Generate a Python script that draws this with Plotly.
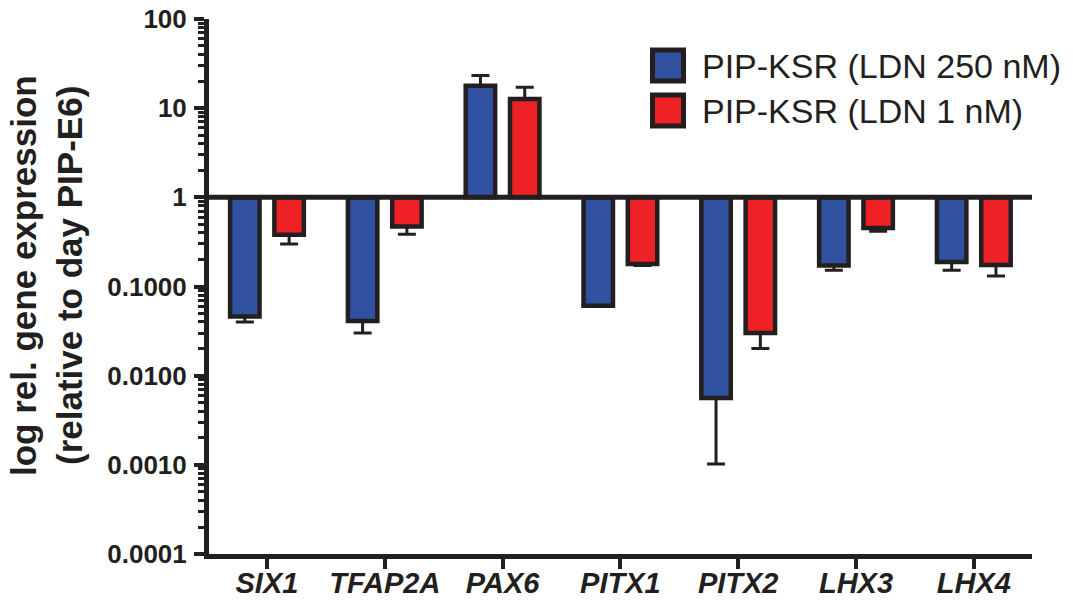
import plotly.graph_objects as go

# ---------------- data ----------------
categories = ["SIX1", "TFAP2A", "PAX6", "PITX1", "PITX2", "LHX3", "LHX4"]
series_names = ["PIP-KSR (LDN 250 nM)", "PIP-KSR (LDN 1 nM)"]
ldn250 = [0.046, 0.041, 17.8, 0.061, 0.0056, 0.172, 0.188]
ldn250_err_end = [0.040, 0.030, 23.2, 0.061, 0.00102, 0.152, 0.152]
ldn1 = [0.38, 0.47, 12.7, 0.179, 0.030, 0.452, 0.174]
ldn1_err_end = [0.30, 0.385, 17.2, 0.172, 0.0202, 0.416, 0.131]
y_tickvals = [0.0001, 0.001, 0.01, 0.1, 1, 10, 100]
y_ticktext = ["0.0001", "0.0010", "0.0100", "0.1000", "1", "10", "100"]
y_title_lines = ["log rel. gene expression", "(relative to day PIP-E6)"]

# minor ticks at 2..9 of each decade (axis decoration, not data)
minor_vals = [m * d for d in y_tickvals[:-1] for m in range(2, 10)]

# ---------------- style ----------------
INK = "#231f20"
BLUE = "#3050a0"
RED = "#ee2226"
FONT = "Liberation Sans, Arial, Helvetica, sans-serif"
W, H = 1073, 601
ML, MR, MT, MB = 209, 41, 19, 47
PW, PH = W - ML - MR, H - MT - MB


def px_x(px):
    return (px - ML) / PW


def px_y(py):
    return (H - MB - py) / PH


def err_parts(vals, ends):
    up = [max(e - v, 0) for v, e in zip(vals, ends)]
    down = [max(v - e, 0) for v, e in zip(vals, ends)]
    return up, down


fig = go.Figure()
bar_w = 0.25
for name, vals, ends, color, off in [
    (series_names[0], ldn250, ldn250_err_end, BLUE, -0.313),
    (series_names[1], ldn1, ldn1_err_end, RED, 0.063),
]:
    up, down = err_parts(vals, ends)
    fig.add_trace(go.Bar(
        name=name,
        x=categories,
        y=[v - 1 for v in vals],
        base=1,
        offset=off,
        width=bar_w,
        marker=dict(color=color, line=dict(color=INK, width=4.5)),
        error_y=dict(type="data", symmetric=False, array=up, arrayminus=down,
                     color=INK, thickness=3, width=9),
        showlegend=False,
    ))

fig.update_layout(
    width=W, height=H,
    margin=dict(l=ML, r=MR, t=MT, b=MB, autoexpand=False),
    paper_bgcolor="white", plot_bgcolor="white",
    barmode="overlay",
    font=dict(family=FONT, color=INK),
    showlegend=False,
)
fig.update_xaxes(
    type="category",
    range=[-0.492, 6.494],
    automargin=False,
    showline=True, linecolor=INK, linewidth=5,
    ticks="outside", ticklen=10, tickwidth=4, tickcolor=INK,
    ticklabelstandoff=-11,
    tickfont=dict(family=FONT, size=29, weight="bold", style="italic", color=INK),
    showgrid=False, zeroline=False,
)
fig.update_yaxes(
    type="log",
    range=[-4, 2],
    automargin=False,
    tickmode="array", tickvals=y_tickvals, ticktext=y_ticktext,
    showline=True, linecolor=INK, linewidth=5,
    ticks="outside", ticklen=10, tickwidth=4, tickcolor=INK,
    ticklabelstandoff=2,
    minor=dict(tickmode="array", tickvals=minor_vals, ticks="outside", ticklen=6,
               tickwidth=2.5, tickcolor=INK, showgrid=False),
    tickfont=dict(family=FONT, size=26, weight="bold", color=INK),
    showgrid=False, zeroline=False,
)

# baseline at 1
fig.add_shape(type="line", xref="paper", yref="y", x0=0, x1=1, y0=1, y1=1,
              line=dict(color=INK, width=5), layer="above")

# y axis title (two lines)
for txt, cx in zip(y_title_lines, [23, 69]):
    fig.add_annotation(text=txt, xref="paper", yref="paper", x=px_x(cx), y=px_y(276),
                       xanchor="center", yanchor="middle", textangle=-90, showarrow=False,
                       font=dict(family=FONT, size=35, weight="bold", color=INK))

# manual legend
for name, color, cy in [(series_names[0], BLUE, 65.5), (series_names[1], RED, 110.5)]:
    fig.add_shape(type="rect", xref="paper", yref="paper",
                  x0=px_x(652.5), x1=px_x(683.5), y0=px_y(cy + 15.5), y1=px_y(cy - 15.5),
                  fillcolor=color, line=dict(color=INK, width=5))
    fig.add_annotation(text=name, xref="paper", yref="paper", x=px_x(700), y=px_y(cy),
                       xanchor="left", yanchor="middle", showarrow=False,
                       font=dict(family=FONT, size=34, color=INK))

fig.write_html("out.html", config={"displayModeBar": False},
               post_script="document.body.style.margin='0';")
